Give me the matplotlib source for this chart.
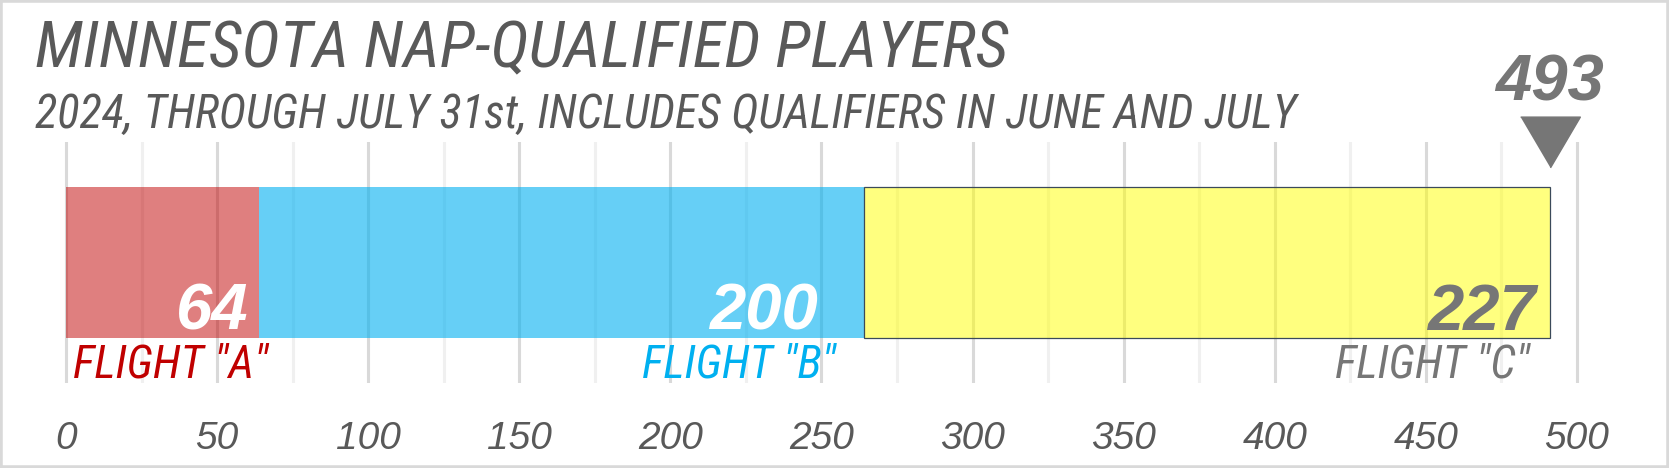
import numpy as np
import matplotlib.pyplot as plt
from matplotlib import font_manager
from matplotlib.patches import Rectangle

title = "MINNESOTA NAP-QUALIFIED PLAYERS"
subtitle = "2024, THROUGH JULY 31st, INCLUDES QUALIFIERS IN JUNE AND JULY"

flights = ['FLIGHT "A"', 'FLIGHT "B"', 'FLIGHT "C"']
players = [64, 200, 227]
total_label = 493
ticks = [0, 50, 100, 150, 200, 250, 300, 350, 400, 450, 500]

# styles
bar_colors = ["#C00000", "#00B0F0", "#FFFF00"]
bar_alpha = [0.5, 0.6, 0.5]
label_colors = ["#C00000", "#00B0F0", "#767676"]
value_colors = ["white", "white", "#767676"]
value_inset = [8, 33, 10]  # points left of segment end
gray = "#595959"

installed = {f.name for f in font_manager.fontManager.ttflist}
narrow_font = "Liberation Sans"
for cand in ["Liberation Sans Narrow", "Roboto Condensed", "Open Sans Condensed",
             "DejaVu Sans Condensed"]:
    if cand in installed:
        narrow_font = cand
        break
is_narrow = narrow_font != "Liberation Sans"
narrow = [narrow_font, "DejaVu Sans"]
regular = ["Liberation Sans", "DejaVu Sans"]

W, H = 1669, 468
fig = plt.figure(figsize=(W / 100, H / 100), dpi=100)
ax = fig.add_axes([0.02145, 0.18162, 0.94152, 0.51496])
ax.set_xlim(-10, 510)
ax.set_ylim(-0.5, 0.5)

# gridlines
ax.set_xticks(ticks)
ax.set_xticks(np.array(ticks[:-1]) + 25, minor=True)
ax.grid(axis="x", which="major", color="#d9d9d9", lw=2.2, zorder=0)
ax.grid(axis="x", which="minor", color="#f0f0f0", lw=2.2, zorder=0)
ax.set_axisbelow(True)
for s in ax.spines.values():
    s.set_visible(False)
ax.set_yticks([])
ax.tick_params(axis="x", which="both", length=0, pad=27)
for lab in ax.get_xticklabels():
    lab.set_family(regular)
    lab.set_style("italic")
    lab.set_fontsize(28)
    lab.set_color(gray)

lefts = np.concatenate([[0], np.cumsum(players)[:-1]])
ends = np.cumsum(players)
for i in range(len(players)):
    ax.barh(0, players[i], left=lefts[i], height=0.627,
            color=bar_colors[i], alpha=bar_alpha[i], zorder=2)
    if i == 2:
        ax.barh(0, players[i], left=lefts[i], height=0.627,
                facecolor="none", edgecolor="#3b4a5a", lw=0.9, zorder=3)
    ax.annotate(str(players[i]), (ends[i], -0.28), xytext=(-value_inset[i], 0),
                textcoords="offset points", ha="right", va="baseline",
                fontsize=47, fontweight="bold", style="italic",
                color=value_colors[i], family=regular, zorder=4)

fs_flight = 33 if is_narrow else 28
fs_title = 47 if is_narrow else 39.5
fs_sub = 33.5 if is_narrow else 27.5

# flight labels
ax.annotate(flights[0], (lefts[0], -0.479), xytext=(5, 0), textcoords="offset points",
            ha="left", va="baseline", fontsize=fs_flight, style="italic",
            color=label_colors[0], family=narrow, annotation_clip=False)
for i in (1, 2):
    off = -20 if i == 1 else -14
    ax.annotate(flights[i], (ends[i], -0.479), xytext=(off, 0), textcoords="offset points",
                ha="right", va="baseline", fontsize=fs_flight, style="italic",
                color=label_colors[i], family=narrow, annotation_clip=False)

# total marker
ax.plot([ends[-1]], [0.5], marker=[(-1, 0.85), (1, 0.85), (0, -0.85)],
        ms=43, color="#767676", clip_on=False, zorder=5)
ax.text(ends[-1], 0.674, str(total_label), ha="center", va="baseline",
        fontsize=47, fontweight="bold", style="italic", color="#767676",
        family=regular, clip_on=False)

fig.text(35 / W, 1 - 67 / H, title, ha="left", va="baseline", fontsize=fs_title,
         style="italic", color=gray, family=narrow)
fig.text(35 / W, 1 - 128 / H, subtitle, ha="left", va="baseline", fontsize=fs_sub,
         style="italic", color=gray, family=narrow)

fig.patches.append(Rectangle((0, 0), 1, 1, transform=fig.transFigure, fill=False,
                             edgecolor="#d9d9d9", lw=4))

fig.savefig("out.png", dpi=100)
